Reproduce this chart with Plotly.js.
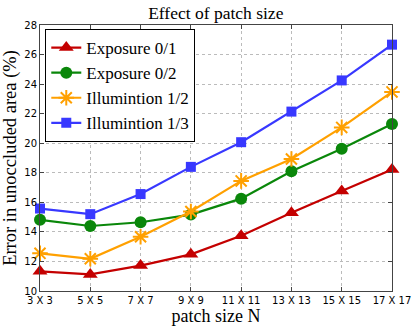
<!DOCTYPE html>
<html>
<head>
<meta charset="utf-8">
<script src="https://cdn.plot.ly/plotly-3.0.1.min.js"></script>
<style>
  html, body { margin: 0; padding: 0; background: #fff; }
  #chart { width: 415px; height: 328px; }
</style>
</head>
<body>
<div id="chart"></div>
<script>
const patchSizes = ['3 X 3', '5 X 5', '7 X 7', '9 X 9', '11 X 11', '13 X 13', '15 X 15', '17 X 17'];
const exposure01 = [11.33, 11.12, 11.72, 12.48, 13.74, 15.3, 16.77, 18.22];
const exposure02 = [14.82, 14.4, 14.65, 15.17, 16.25, 18.1, 19.63, 21.3];
const illum12 = [12.55, 12.18, 13.67, 15.38, 17.45, 18.93, 21.07, 23.47];
const illum13 = [15.58, 15.2, 16.56, 18.4, 20.07, 22.14, 24.25, 26.67];

const serif = 'Liberation Serif';

function series(name, y, color, symbol, size) {
  const open = symbol === 'asterisk-open';
  return {
    type: 'scatter', mode: 'lines+markers', name, x: patchSizes, y,
    line: { color, width: 2.2 },
    marker: { symbol, size, color, line: { color, width: open ? 2 : 0 } },
    cliponaxis: false
  };
}

const traces = [
  series('Exposure 0/1', exposure01, '#c40000', 'triangle-up', 13),
  series('Exposure 0/2', exposure02, '#0a870a', 'circle', 12),
  series('Illumintion 1/2', illum12, '#ffa000', 'asterisk-open', 13),
  series('Illumintion 1/3', illum13, '#3838ff', 'square', 10)
];

const axisCommon = {
  showline: true, mirror: 'ticks', linecolor: '#444', linewidth: 1,
  ticks: 'inside', ticklen: 4, tickcolor: '#444',
  showgrid: true, gridcolor: '#bbbbbb', griddash: 'dot', gridwidth: 1,
  zeroline: false,
  tickfont: { family: 'DejaVu Sans', size: 10, color: '#000' }
};

Plotly.newPlot('chart', traces, {
  width: 415, height: 328,
  paper_bgcolor: '#fff', plot_bgcolor: '#fff',
  font: { family: serif, color: '#000' },
  margin: { l: 40, r: 23, t: 25, b: 37 },
  title: { text: 'Effect of patch size', font: { family: serif, size: 17.5, color: '#000' }, x: 0.52, xanchor: 'center', y: 0.962, yanchor: 'middle' },
  xaxis: { ...axisCommon, type: 'category', range: [0, 7],
    title: { text: 'patch size N', font: { family: serif, size: 18, color: '#000' }, standoff: 0 } },
  yaxis: { ...axisCommon, range: [10, 28], dtick: 2,
    title: { text: 'Error in unoccluded area (%)', font: { family: serif, size: 18.5, color: '#000' }, standoff: 2 } },
  showlegend: true,
  legend: {
    x: 0.015, y: 0.985, xanchor: 'left', yanchor: 'top',
    bgcolor: '#fff', bordercolor: '#000', borderwidth: 1,
    font: { family: serif, size: 17, color: '#000' },
    tracegroupgap: 0
  }
}, { displayModeBar: false, staticPlot: true });
</script>
</body>
</html>
